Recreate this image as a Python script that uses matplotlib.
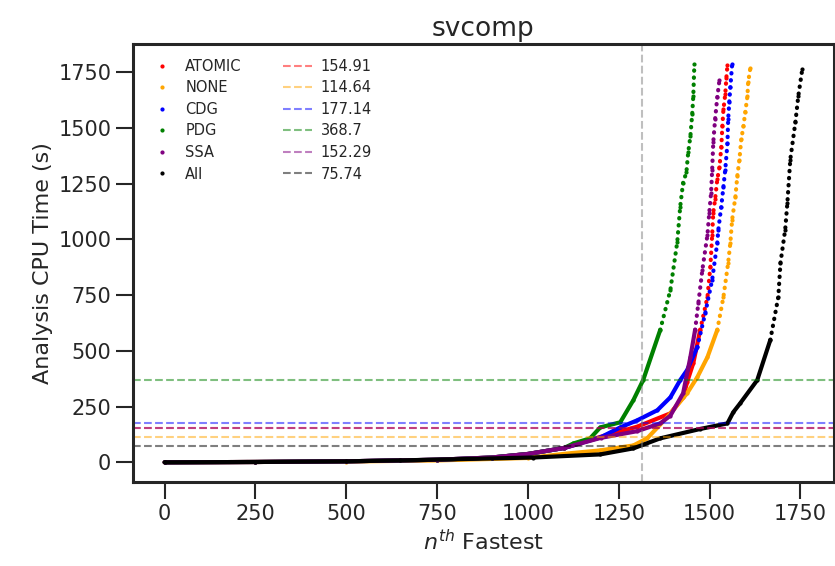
import matplotlib
matplotlib.use('Agg')
import matplotlib.pyplot as plt
import seaborn as sns

# sorted analysis times (rank -> seconds)
atomic_n = [0, 250, 500, 750, 900, 1000, 1100, 1200, 1300, 1392, 1427, 1438, 1455, 1474, 1494, 1502, 1507,
            1510, 1515, 1521, 1527, 1532, 1535, 1538, 1543, 1546, 1549]
atomic_t = [0.5, 2, 5, 12, 22, 38, 65, 115, 160, 220, 292, 360, 445, 594, 742, 877, 1021,
            1120, 1179, 1269, 1323, 1412, 1507, 1583, 1651, 1723, 1781]

none_n = [0, 250, 500, 750, 1000, 1108, 1199, 1290, 1328, 1383, 1438, 1466, 1494, 1521, 1538, 1551, 1557,
          1562, 1571, 1576, 1582, 1587, 1593, 1598, 1604, 1606, 1612]
none_t = [0.5, 2, 4, 9, 20, 40, 54, 76, 108, 202, 310, 382, 472, 594, 742, 895, 985,
          1089, 1192, 1282, 1358, 1448, 1507, 1570, 1642, 1705, 1768]

cdg_n = [0, 250, 500, 750, 900, 1000, 1100, 1199, 1254, 1301, 1356, 1392, 1419, 1438, 1466, 1488, 1507,
         1521, 1524, 1532, 1538, 1543, 1549, 1551, 1554, 1557, 1562]
cdg_t = [0.5, 2, 5, 12, 22, 38, 65, 112, 157, 189, 234, 292, 369, 414, 517, 670, 819,
         985, 1044, 1147, 1237, 1313, 1430, 1538, 1615, 1682, 1786]

pdg_n = [0, 250, 500, 750, 900, 1000, 1100, 1125, 1171, 1199, 1254, 1290, 1317, 1364, 1392, 1411, 1419,
         1427, 1436, 1441, 1447, 1452, 1455, 1458]
pdg_t = [0.5, 2, 5, 12, 22, 38, 65, 85, 108, 157, 180, 279, 369, 594, 774, 990, 1147,
         1255, 1300, 1390, 1462, 1561, 1642, 1786]

ssa_n = [0, 250, 500, 750, 900, 1000, 1100, 1200, 1300, 1364, 1392, 1427, 1447, 1460, 1469, 1480, 1494,
         1499, 1504, 1507, 1510, 1515, 1521, 1527]
ssa_t = [0.5, 2, 5, 12, 22, 38, 65, 110, 140, 175, 210, 310, 472, 594, 715, 864, 1021,
         1120, 1210, 1313, 1435, 1538, 1637, 1714]

all_n = [0, 250, 500, 648, 1014, 1199, 1290, 1364, 1474, 1549, 1565, 1584, 1631, 1667, 1689, 1695, 1708,
         1714, 1722, 1736, 1744, 1755]
all_t = [0.5, 2, 5, 9, 22, 36, 63, 108, 150, 175, 225, 265, 369, 549, 742, 895, 1044,
         1165, 1358, 1525, 1642, 1763]

names = ['ATOMIC', 'NONE', 'CDG', 'PDG', 'SSA', 'All']
colors = ['red', 'orange', 'blue', 'green', 'purple', 'black']
means = [154.91, 114.64, 177.14, 368.7, 152.29, 75.74]
cutoff = 1315

sns.set_theme(style='ticks', context='talk')
plt.rcParams['font.family'] = ['DejaVu Sans']

fig, ax = plt.subplots(figsize=(8.35, 5.66), dpi=100)
fig.subplots_adjust(left=0.159, right=0.999, top=0.922, bottom=0.148)

series = [(atomic_n, atomic_t), (none_n, none_t), (cdg_n, cdg_t),
          (pdg_n, pdg_t), (ssa_n, ssa_t), (all_n, all_t)]

dots = []
for (n, t), name, c in zip(series, names, colors):
    # dense part looks like a solid band, the steep tail like a trail of dots
    k = sum(1 for v in t if v <= 600)
    ax.plot(n[:k], t[:k], '-', color=c, lw=3, solid_capstyle='round')
    ax.plot(n[k - 1:], t[k - 1:], color=c, lw=3, ls=(0, (0.1, 1.6)),
            dash_capstyle='round')
    h, = ax.plot(n, t, '.', color=c, ms=4, label=name)
    dots.append(h)

lines = []
for m, c in zip(means, colors):
    h = ax.axhline(m, color=c, ls='--', lw=1.5, alpha=0.5, label=str(m))
    lines.append(h)

ax.axvline(cutoff, color='gray', ls='--', lw=1.5, alpha=0.5)

ax.set_xticks([0, 250, 500, 750, 1000, 1250, 1500, 1750])
ax.set_yticks([0, 250, 500, 750, 1000, 1250, 1500, 1750])
ax.tick_params(labelsize=15, length=12, width=1.5)
for s in ax.spines.values():
    s.set_linewidth(2.2)

ax.set_xlabel(r'$n^{th}$ Fastest', fontsize=16)
ax.set_ylabel('Analysis CPU Time (s)', fontsize=16)
ax.set_title('svcomp', fontsize=19)

ax.legend(handles=dots + lines, ncol=2, loc='upper left', fontsize=10.5, frameon=False,
          columnspacing=2.8, handlelength=2.0, handletextpad=0.6,
          labelspacing=0.45, borderaxespad=0.6)

plt.savefig('out.png')
